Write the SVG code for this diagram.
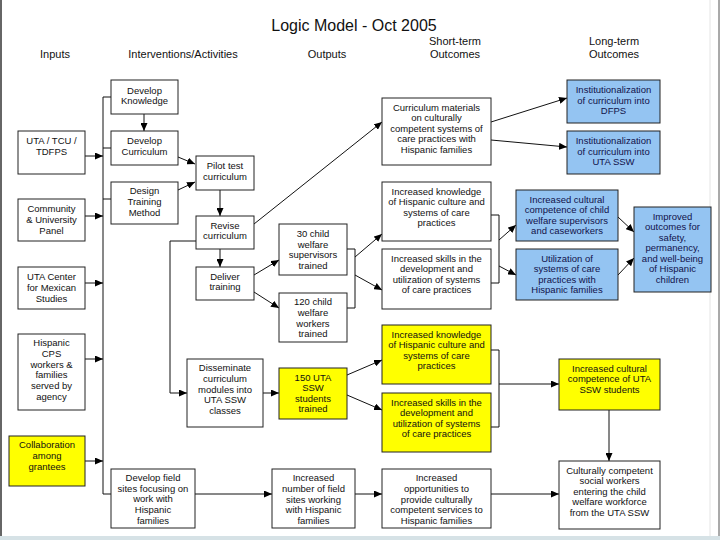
<svg xmlns="http://www.w3.org/2000/svg" width="720" height="540" viewBox="0 0 720 540">
<style>
text{font-family:"Liberation Sans",Arial,sans-serif;fill:#111;text-anchor:middle}
.t{font-size:9.5px}
.h{font-size:11px}
.ttl{font-size:16px}
.b rect{fill:#fff;stroke:#222;stroke-width:1}
.y rect{fill:#ffff00;stroke:#222;stroke-width:1}
.bl rect{fill:#94c4f2;stroke:#222;stroke-width:1}
.bl text{fill:#12124a}
.c path,.c line{fill:none;stroke:#111;stroke-width:1}
</style>
<defs>
<marker id="a" markerWidth="8" markerHeight="7" refX="8" refY="3.5" orient="auto" markerUnits="userSpaceOnUse">
<path d="M0,0 L8,3.5 L0,7 Z" fill="#000"/>
</marker>
</defs>
<rect width="720" height="540" fill="#fff"/>
<line x1="1" y1="0" x2="1" y2="537" stroke="#333" stroke-width="1.5"/>
<line x1="719" y1="0" x2="719" y2="537" stroke="#555" stroke-width="1"/>
<line x1="710" y1="0" x2="710" y2="537" stroke="#e4e4e4" stroke-width="1"/>
<rect x="0" y="536" width="720" height="4" fill="#d6e2e6"/>

<g id="titles">
<text class="ttl" x="354" y="31">Logic Model - Oct 2005</text>
<text class="h" x="55" y="58">Inputs</text>
<text class="h" x="183" y="58">Interventions/Activities</text>
<text class="h" x="327" y="58">Outputs</text>
<text class="h" x="455" y="45">Short-term</text>
<text class="h" x="455" y="58">Outcomes</text>
<text class="h" x="614" y="45">Long-term</text>
<text class="h" x="614" y="58">Outcomes</text>
</g>

<g id="connectors" class="c">
<line x1="103" y1="97" x2="103" y2="494"/>
<line x1="103" y1="97" x2="111" y2="97"/>
<line x1="103" y1="148" x2="111" y2="148"/>
<line x1="103" y1="199" x2="111" y2="199"/>
<line x1="103" y1="494" x2="111" y2="494"/>
<line x1="85" y1="156" x2="103" y2="156" marker-end="url(#a)"/>
<line x1="85" y1="216" x2="103" y2="216" marker-end="url(#a)"/>
<line x1="85" y1="283" x2="103" y2="283" marker-end="url(#a)"/>
<line x1="85" y1="359" x2="103" y2="359" marker-end="url(#a)"/>
<line x1="85" y1="461" x2="103" y2="461" marker-end="url(#a)"/>
<line x1="144" y1="114" x2="144" y2="131" marker-end="url(#a)"/>
<line x1="178" y1="157" x2="195" y2="164" marker-end="url(#a)"/>
<line x1="178" y1="190" x2="195" y2="182" marker-end="url(#a)"/>
<line x1="220" y1="190" x2="220" y2="216" marker-end="url(#a)"/>
<line x1="220" y1="249" x2="220" y2="267" marker-end="url(#a)"/>
<line x1="254" y1="224" x2="382" y2="122" marker-end="url(#a)"/>
<path d="M196,241 H170 V393 H187" marker-end="url(#a)"/>
<line x1="254" y1="275" x2="279" y2="260" marker-end="url(#a)"/>
<line x1="254" y1="292" x2="279" y2="308" marker-end="url(#a)"/>
<path d="M347,249 H355 V308 H347"/>
<line x1="355" y1="257" x2="382" y2="234" marker-end="url(#a)"/>
<line x1="355" y1="275" x2="382" y2="290" marker-end="url(#a)"/>
<path d="M491,215 H499 V283 H491"/>
<line x1="499" y1="240" x2="516" y2="225" marker-end="url(#a)"/>
<line x1="499" y1="266" x2="516" y2="275" marker-end="url(#a)"/>
<line x1="618" y1="217" x2="634" y2="232" marker-end="url(#a)"/>
<line x1="618" y1="275" x2="634" y2="258" marker-end="url(#a)"/>
<line x1="491" y1="122" x2="567" y2="98" marker-end="url(#a)"/>
<line x1="491" y1="140" x2="567" y2="147" marker-end="url(#a)"/>
<line x1="263" y1="393" x2="279" y2="393" marker-end="url(#a)"/>
<line x1="347" y1="375" x2="382" y2="360" marker-end="url(#a)"/>
<line x1="347" y1="395" x2="382" y2="410" marker-end="url(#a)"/>
<path d="M491,350 H499 V427 H491"/>
<line x1="499" y1="384" x2="559" y2="384" marker-end="url(#a)"/>
<line x1="609" y1="410" x2="609" y2="461" marker-end="url(#a)"/>
<line x1="195" y1="494" x2="272" y2="494" marker-end="url(#a)"/>
<line x1="355" y1="494" x2="382" y2="494" marker-end="url(#a)"/>
<line x1="491" y1="494" x2="559" y2="494" marker-end="url(#a)"/>
</g>

<g id="in1" class="b"><rect x="18" y="131" width="67" height="43"/><text class="t" x="51.5" y="144">UTA / TCU /</text><text class="t" x="51.5" y="155">TDFPS</text></g>
<g id="in2" class="b"><rect x="18" y="199" width="67" height="42"/><text class="t" x="51.5" y="212">Community</text><text class="t" x="51.5" y="223">&amp; University</text><text class="t" x="51.5" y="234">Panel</text></g>
<g id="in3" class="b"><rect x="18" y="267" width="67" height="42"/><text class="t" x="51.5" y="280">UTA Center</text><text class="t" x="51.5" y="291">for Mexican</text><text class="t" x="51.5" y="302">Studies</text></g>
<g id="in4" class="b"><rect x="18" y="334" width="67" height="76"/><text class="t" x="51.5" y="346">Hispanic</text><text class="t" x="51.5" y="357">CPS</text><text class="t" x="51.5" y="367.5">workers &amp;</text><text class="t" x="51.5" y="378">families</text><text class="t" x="51.5" y="389">served by</text><text class="t" x="51.5" y="399.5">agency</text></g>
<g id="in5" class="y"><rect x="9" y="436" width="76" height="50"/><text class="t" x="47" y="448">Collaboration</text><text class="t" x="47" y="459">among</text><text class="t" x="47" y="469.5">grantees</text></g>

<g id="a1" class="b"><rect x="111" y="80" width="67" height="34"/><text class="t" x="144.5" y="93.5">Develop</text><text class="t" x="144.5" y="104">Knowledge</text></g>
<g id="a2" class="b"><rect x="111" y="131" width="67" height="34"/><text class="t" x="144.5" y="144">Develop</text><text class="t" x="144.5" y="154.5">Curriculum</text></g>
<g id="a3" class="b"><rect x="111" y="182" width="67" height="42"/><text class="t" x="144.5" y="194">Design</text><text class="t" x="144.5" y="205">Training</text><text class="t" x="144.5" y="215.5">Method</text></g>
<g id="a4" class="b"><rect x="196" y="156" width="58" height="34"/><text class="t" x="225" y="169">Pilot test</text><text class="t" x="225" y="179.5">curriculum</text></g>
<g id="a5" class="b"><rect x="196" y="216" width="58" height="33"/><text class="t" x="225" y="228.5">Revise</text><text class="t" x="225" y="239">curriculum</text></g>
<g id="a6" class="b"><rect x="196" y="267" width="58" height="33"/><text class="t" x="225" y="279.5">Deliver</text><text class="t" x="225" y="290">training</text></g>
<g id="a7" class="b"><rect x="187" y="359" width="76" height="68"/><text class="t" x="225" y="371">Disseminate</text><text class="t" x="225" y="382">curriculum</text><text class="t" x="225" y="392.5">modules into</text><text class="t" x="225" y="403">UTA SSW</text><text class="t" x="225" y="414">classes</text></g>
<g id="a8" class="b"><rect x="111" y="469" width="84" height="59"/><text class="t" x="153" y="481">Develop field</text><text class="t" x="153" y="491.5">sites focusing on</text><text class="t" x="153" y="502">work with</text><text class="t" x="153" y="512.5">Hispanic</text><text class="t" x="153" y="523.5">families</text></g>

<g id="o1" class="b"><rect x="279" y="224" width="68" height="51"/><text class="t" x="313" y="237">30 child</text><text class="t" x="313" y="247.5">welfare</text><text class="t" x="313" y="258">supervisors</text><text class="t" x="313" y="268.5">trained</text></g>
<g id="o2" class="b"><rect x="279" y="293" width="68" height="49"/><text class="t" x="313" y="305">120 child</text><text class="t" x="313" y="315.5">welfare</text><text class="t" x="313" y="326.5">workers</text><text class="t" x="313" y="337">trained</text></g>
<g id="o3" class="y"><rect x="279" y="368" width="68" height="51"/><text class="t" x="313" y="380.5">150 UTA</text><text class="t" x="313" y="391">SSW</text><text class="t" x="313" y="401.5">students</text><text class="t" x="313" y="412">trained</text></g>
<g id="o4" class="b"><rect x="272" y="469" width="83" height="59"/><text class="t" x="313.5" y="481">Increased</text><text class="t" x="313.5" y="492">number of field</text><text class="t" x="313.5" y="502.5">sites working</text><text class="t" x="313.5" y="513">with Hispanic</text><text class="t" x="313.5" y="524">families</text></g>

<g id="s1" class="b"><rect x="382" y="98" width="109" height="67"/><text class="t" x="436.5" y="110.5">Curriculum materials</text><text class="t" x="436.5" y="121">on culturally</text><text class="t" x="436.5" y="131.5">competent systems of</text><text class="t" x="436.5" y="142">care practices with</text><text class="t" x="436.5" y="153">Hispanic families</text></g>
<g id="s2" class="b"><rect x="382" y="182" width="109" height="59"/><text class="t" x="436.5" y="194.5">Increased knowledge</text><text class="t" x="436.5" y="205">of Hispanic culture and</text><text class="t" x="436.5" y="215.5">systems of care</text><text class="t" x="436.5" y="226">practices</text></g>
<g id="s3" class="b"><rect x="382" y="249" width="109" height="60"/><text class="t" x="436.5" y="261.5">Increased skills in the</text><text class="t" x="436.5" y="272">development and</text><text class="t" x="436.5" y="282.5">utilization of systems</text><text class="t" x="436.5" y="293">of care practices</text></g>
<g id="s4" class="y"><rect x="382" y="325" width="109" height="59"/><text class="t" x="436.5" y="337.5">Increased knowledge</text><text class="t" x="436.5" y="348">of Hispanic culture and</text><text class="t" x="436.5" y="358.5">systems of care</text><text class="t" x="436.5" y="369">practices</text></g>
<g id="s5" class="y"><rect x="382" y="393" width="109" height="59"/><text class="t" x="436.5" y="405.5">Increased skills in the</text><text class="t" x="436.5" y="416">development and</text><text class="t" x="436.5" y="426.5">utilization of systems</text><text class="t" x="436.5" y="437">of care practices</text></g>
<g id="s6" class="b"><rect x="382" y="469" width="109" height="59"/><text class="t" x="436.5" y="481">Increased</text><text class="t" x="436.5" y="492">opportunities to</text><text class="t" x="436.5" y="502.5">provide culturally</text><text class="t" x="436.5" y="513">competent services to</text><text class="t" x="436.5" y="524">Hispanic families</text></g>

<g id="l1" class="bl"><rect x="567" y="80" width="93" height="43"/><text class="t" x="613.5" y="93">Institutionalization</text><text class="t" x="613.5" y="103.5">of curriculum into</text><text class="t" x="613.5" y="114">DFPS</text></g>
<g id="l2" class="bl"><rect x="567" y="131" width="93" height="43"/><text class="t" x="613.5" y="144">Institutionalization</text><text class="t" x="613.5" y="154.5">of curriculum into</text><text class="t" x="613.5" y="165">UTA SSW</text></g>
<g id="l3" class="bl"><rect x="516" y="190" width="102" height="51"/><text class="t" x="567" y="202.5">Increased cultural</text><text class="t" x="567" y="213">competence of child</text><text class="t" x="567" y="223.5">welfare supervisors</text><text class="t" x="567" y="234">and caseworkers</text></g>
<g id="l4" class="bl"><rect x="516" y="249" width="102" height="51"/><text class="t" x="567" y="261.5">Utilization of</text><text class="t" x="567" y="272">systems of care</text><text class="t" x="567" y="282.5">practices with</text><text class="t" x="567" y="293">Hispanic families</text></g>
<g id="l5" class="bl"><rect x="634" y="207" width="77" height="85"/><text class="t" x="672.5" y="219.5">Improved</text><text class="t" x="672.5" y="230">outcomes for</text><text class="t" x="672.5" y="240.5">safety,</text><text class="t" x="672.5" y="251">permanency,</text><text class="t" x="672.5" y="261.5">and well-being</text><text class="t" x="672.5" y="272">of Hispanic</text><text class="t" x="672.5" y="282.5">children</text></g>
<g id="l6" class="y"><rect x="559" y="359" width="101" height="51"/><text class="t" x="609.5" y="371.5">Increased cultural</text><text class="t" x="609.5" y="382">competence of UTA</text><text class="t" x="609.5" y="392.5">SSW students</text></g>
<g id="l7" class="b"><rect x="559" y="461" width="101" height="68"/><text class="t" x="609.5" y="473.5">Culturally competent</text><text class="t" x="609.5" y="484">social workers</text><text class="t" x="609.5" y="494.5">entering the child</text><text class="t" x="609.5" y="505">welfare workforce</text><text class="t" x="609.5" y="516">from the UTA SSW</text></g>
</svg>
